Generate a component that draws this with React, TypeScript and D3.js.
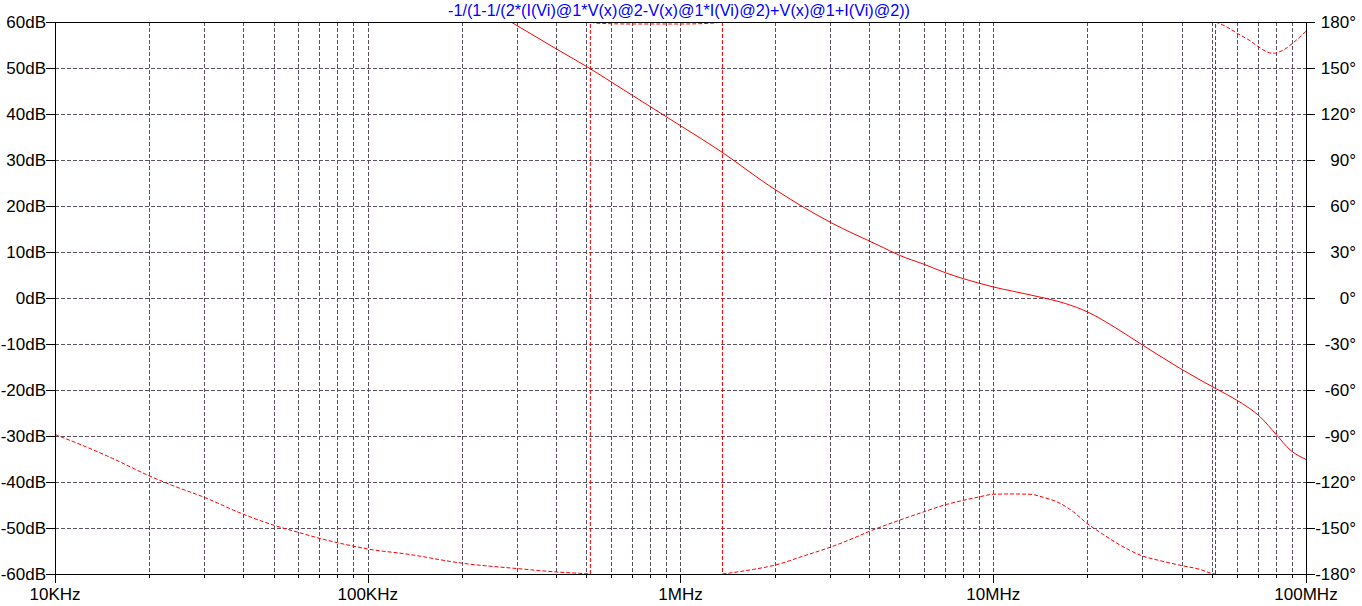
import React from 'react';
import * as d3 from 'd3';

const W = 1362;
const H = 606;

const TITLE = '-1/(1-1/(2*(I(Vi)@1*V(x)@2-V(x)@1*I(Vi)@2)+V(x)@1+I(Vi)@2))';

const freqTicks = [1e4, 1e5, 1e6, 1e7, 1e8];
const freqLabels = ['10KHz', '100KHz', '1MHz', '10MHz', '100MHz'];

const dbTicks = [60, 50, 40, 30, 20, 10, 0, -10, -20, -30, -40, -50, -60];
const dbLabels = ['60dB', '50dB', '40dB', '30dB', '20dB', '10dB', '0dB', '-10dB', '-20dB', '-30dB', '-40dB', '-50dB', '-60dB'];

const phaseTicks = [180, 150, 120, 90, 60, 30, 0, -30, -60, -90, -120, -150, -180];
const phaseLabels = ['180°', '150°', '120°', '90°', '60°', '30°', '0°', '-30°', '-60°', '-90°', '-120°', '-150°', '-180°'];

// Magnitude (solid) — frequency in Hz, value in dB
const magFreq = [287e3, 402e3, 513e3, 656e3, 818e3, 925e3, 1.357e6, 1.933e6, 3.006e6, 4.345e6, 5.008e6, 6.02e6, 7.025e6, 8.024e6, 9.025e6, 10.0e6, 11.5e6, 14.11e6, 17.0e6, 19.98e6, 24.5e6, 29.97e6, 39.56e6, 45.83e6, 51.82e6, 60.03e6, 71.27e6, 80.6e6, 88.9e6, 100e6];
const magDb = [60, 54.1, 49.9, 45.3, 41.2, 38.9, 31.7, 24.3, 16.5, 11.3, 9.3, 7.3, 5.5, 4.2, 3.2, 2.4, 1.5, 0.2, -1.2, -3.0, -6.4, -10.2, -15.3, -17.8, -19.8, -22.2, -25.8, -29.8, -33.0, -35.1];

// Phase (dashed) — frequency in Hz, value in degrees (wraps at ±180)
const phaseFreq = [10e3, 12.54e3, 15.27e3, 20.02e3, 23.56e3, 30.02e3, 39.98e3, 50.25e3, 59.92e3, 70e3, 80.06e3, 89.86e3, 100.1e3, 133.5e3, 200.9e3, 302.1e3, 402.9e3, 497.8e3, 515e3,
  515e3, 540e3, 700e3, 1.0e6, 1.25e6, 1.362e6,
  1.362e6, 1.709e6, 2.005e6, 2.47e6, 3.006e6, 3.568e6, 4.015e6, 5.034e6, 6.006e6, 7.099e6, 8.122e6, 9.071e6, 10.0e6, 11.31e6, 13.11e6, 14.46e6, 16.35e6, 18.03e6, 19.9e6, 21.94e6, 25.43e6, 30.06e6, 34.14e6, 40.23e6, 45.83e6, 49.95e6, 51.37e6,
  51.37e6, 55.08e6, 60.31e6, 66.22e6, 70.39e6, 74.88e6, 78.62e6, 84.61e6, 91.07e6, 100e6];
const phaseDeg = [-89, -97, -104.6, -116, -122, -130, -141, -148.3, -152.8, -156.7, -159.6, -161.8, -163.7, -167, -173, -176.5, -178.7, -179.8, -180,
  180, 179.2, 178.7, 178.7, 179.2, 180,
  -180, -177, -174.2, -168.3, -162.6, -156.7, -152.2, -144.8, -139.4, -134.6, -131.7, -129.6, -128, -127.8, -128, -130, -133.9, -139.4, -146.9, -152.8, -161.1, -168.3, -171.3, -174.6, -177, -179.6, -180,
  180, 177.4, 172.6, 167.8, 163.9, 160.6, 159.6, 161.7, 166.5, 174];

const minorMult = [2, 3, 4, 5, 6, 7, 8, 9];

const LEFT = 55;
const RIGHT = 1306;
const TOP = 22;
const BOTTOM = 574;

const px = (v: number) => Math.round(v) + 0.5;

export default function App() {
  const x = d3.scaleLog().domain([1e4, 1e8]).range([LEFT, RIGHT]);
  const yDb = d3.scaleLinear().domain([-60, 60]).range([BOTTOM, TOP]);
  const yPh = d3.scaleLinear().domain([-180, 180]).range([BOTTOM, TOP]);

  const gridFreqs: number[] = [];
  for (let k = 4; k < 8; k++) {
    const base = Math.pow(10, k);
    if (k > 4) gridFreqs.push(base);
    minorMult.forEach((m) => gridFreqs.push(m * base));
  }

  const magPts: [number, number][] = magFreq.map((f, i) => [x(f), yDb(magDb[i])]);
  const magPath = d3.line().curve(d3.curveMonotoneX)(magPts) || '';

  // split phase into continuous segments and wrap jumps
  const segs: [number, number][][] = [];
  const jumps: [number, number][][] = [];
  let cur: [number, number][] = [];
  phaseFreq.forEach((f, i) => {
    const p: [number, number] = [x(f), yPh(phaseDeg[i])];
    if (i > 0 && phaseFreq[i - 1] === f) {
      segs.push(cur);
      jumps.push([cur[cur.length - 1], p]);
      cur = [p];
    } else {
      cur.push(p);
    }
  });
  segs.push(cur);
  const mono = d3.line().curve(d3.curveMonotoneX);
  const lin = d3.line();
  const phPath = segs.map((s) => mono(s) || '').join(' ') + ' ' + jumps.map((j) => lin(j) || '').join(' ');

  const gridColor = '#5a5060';
  const font = "'Liberation Sans', Arial, sans-serif";

  return (
    <svg width={W} height={H} style={{ position: 'absolute', left: 0, top: 0, display: 'block', background: '#fff' }}>
      <rect x={0} y={0} width={W} height={H} fill="#fff" />
      <defs>
        <clipPath id="plot">
          <rect x={LEFT} y={TOP} width={RIGHT - LEFT + 1} height={BOTTOM - TOP + 1} />
        </clipPath>
      </defs>

      {/* grid */}
      <g shapeRendering="crispEdges" stroke={gridColor} strokeWidth={1} strokeDasharray="4,2">
        {gridFreqs.map((f) => (
          <line key={'v' + f} x1={px(x(f))} x2={px(x(f))} y1={TOP} y2={BOTTOM} />
        ))}
        {dbTicks.filter((d) => d !== 60 && d !== -60).map((d) => (
          <line key={'h' + d} x1={LEFT} x2={RIGHT} y1={px(yDb(d))} y2={px(yDb(d))} />
        ))}
      </g>

      {/* curves */}
      <g clipPath="url(#plot)" fill="none" stroke="#ff0000" strokeWidth={1}>
        <path d={magPath} />
        <path d={phPath} strokeDasharray="4,2" />
      </g>

      {/* frame and ticks */}
      <g shapeRendering="crispEdges" stroke="#000" strokeWidth={1}>
        <rect x={px(LEFT)} y={px(TOP)} width={Math.round(RIGHT) - Math.round(LEFT)} height={Math.round(BOTTOM) - Math.round(TOP)} fill="none" />
        {dbTicks.map((d) => (
          <line key={'lt' + d} x1={LEFT - 9} x2={LEFT} y1={px(yDb(d))} y2={px(yDb(d))} />
        ))}
        {phaseTicks.map((d) => (
          <line key={'rt' + d} x1={RIGHT} x2={RIGHT + 9} y1={px(yPh(d))} y2={px(yPh(d))} />
        ))}
        {freqTicks.map((f) => (
          <line key={'bt' + f} x1={px(x(f))} x2={px(x(f))} y1={BOTTOM} y2={BOTTOM + 9} />
        ))}
        {gridFreqs.filter((f) => freqTicks.indexOf(f) < 0).map((f) => (
          <line key={'bm' + f} x1={px(x(f))} x2={px(x(f))} y1={BOTTOM} y2={BOTTOM + 4} />
        ))}
      </g>

      {/* labels */}
      <g fontFamily={font} fontSize={17} fill="#000">
        {dbTicks.map((d, i) => (
          <text key={'ll' + d} x={46} y={yDb(d) + 6} textAnchor="end">{dbLabels[i]}</text>
        ))}
        {phaseTicks.map((d, i) => (
          <text key={'rl' + d} x={1356} y={yPh(d) + 6} textAnchor="end">{phaseLabels[i]}</text>
        ))}
        {freqTicks.map((f, i) => (
          <text key={'bl' + f} x={x(f)} y={600} textAnchor="middle">{freqLabels[i]}</text>
        ))}
      </g>

      <text x={448} y={16} fontFamily={font} fontSize={16} fill="#0000ff" textLength={462} lengthAdjust="spacingAndGlyphs">{TITLE}</text>
    </svg>
  );
}
